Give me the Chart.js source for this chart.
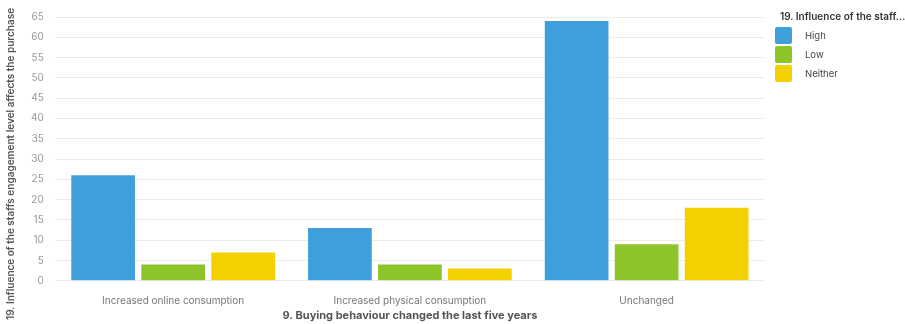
<!DOCTYPE html>
<html lang="en">
  <head>
    <meta charset="UTF-8" />
    <script src="https://cdn.jsdelivr.net/npm/chart.js@4/dist/chart.umd.min.js"></script>
    <title>Buying behaviour</title>
    <style>
      html, body { margin: 0; padding: 0; background: #fff; }
      #wrap { position: relative; width: 905px; height: 324px; }
      #legend {
        position: absolute; left: 775px; top: 10px;
        font-family: Inter, sans-serif; color: #444;
      }
      #legend .title { font-size: 10px; font-weight: 600; color: #333; margin: 0 0 4px 5px; white-space: nowrap; }
      #legend .item { display: flex; align-items: center; height: 19px; font-size: 9.5px; }
      #legend .box { width: 17px; height: 17px; border-radius: 2px; margin-right: 13px; }
    </style>
  </head>
  <body>
    <div id="wrap">
      <canvas id="myChart"></canvas>
      <div id="legend"></div>
    </div>
    <script>
      const categories = [
        "Increased online consumption",
        "Increased physical consumption",
        "Unchanged",
      ];
      const seriesNames = ["High", "Low", "Neither"];
      const high = [26, 13, 64];
      const low = [4, 4, 9];
      const neither = [7, 3, 18];
      const colors = ["#3f9fdb", "#8cc42a", "#f5d000"];
      const yTitle = "19. Influence of the staffs engagement level affects the purchase";

      Chart.defaults.font.family = "Inter, sans-serif";

      const datasets = [high, low, neither].map((vals, i) => ({
        label: seriesNames[i],
        data: vals,
        backgroundColor: colors[i],
        borderWidth: 0,
        categoryPercentage: 0.887,
        barPercentage: 0.91,
      }));

      // y title is centred on the whole canvas height, not the plot area
      const yTitlePlugin = {
        id: "yTitle",
        afterDraw(chart) {
          const ctx = chart.ctx;
          ctx.save();
          ctx.translate(11, chart.height / 2 + 2);
          ctx.rotate(-Math.PI / 2);
          ctx.font = "600 10px Inter, sans-serif";
          ctx.fillStyle = "#555";
          ctx.textAlign = "center";
          ctx.textBaseline = "middle";
          ctx.fillText(yTitle, 0, 0);
          ctx.restore();
        },
      };

      new Chart(document.getElementById("myChart"), {
        type: "bar",
        data: { labels: categories, datasets: datasets },
        plugins: [yTitlePlugin],
        options: {
          responsive: true,
          maintainAspectRatio: false,
          animation: false,
          layout: { padding: { top: 10, right: 140, left: 20, bottom: 2 } },
          plugins: {
            tooltip: { enabled: false },
            legend: { display: false },
          },
          scales: {
            x: {
              grid: { display: false, drawTicks: false },
              border: { display: false },
              ticks: { color: "#777", font: { size: 10 }, padding: 14 },
              title: {
                display: true,
                text: "9. Buying behaviour changed the last five years",
                color: "#555",
                font: { size: 11, weight: "bold" },
                padding: { top: -12, bottom: 0 },
              },
            },
            y: {
              min: 0,
              max: 65,
              ticks: { stepSize: 5, color: "#999", font: { size: 10 }, padding: 11 },
              grid: { color: "#ececec", drawTicks: false },
              border: { display: false },
            },
          },
        },
      });

      // legend built from the series names and colours
      const legend = document.getElementById("legend");
      legend.innerHTML =
        '<div class="title">19. Influence of the staff…</div>' +
        seriesNames
          .map(
            (name, i) =>
              '<div class="item"><span class="box" style="background:' +
              colors[i] + '"></span>' + name + "</div>"
          )
          .join("");
    </script>
  </body>
</html>
